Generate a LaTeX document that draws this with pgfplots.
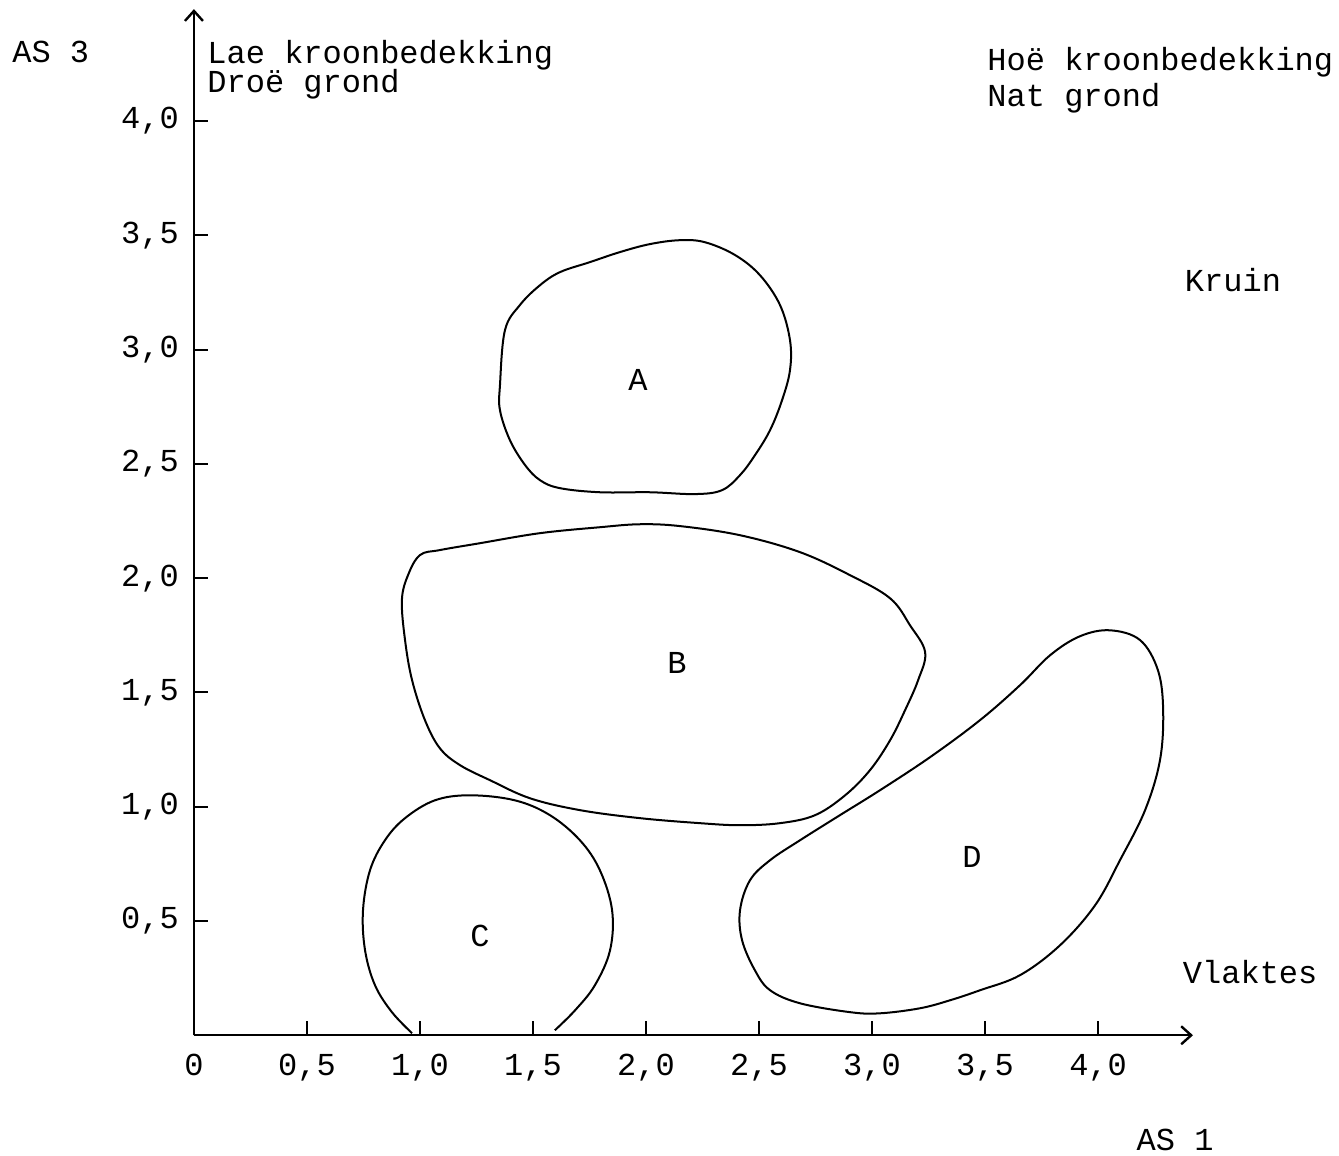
\documentclass[border=0pt]{standalone}
\usepackage{fontspec}
\setmainfont{Liberation Mono}
\setmonofont{Liberation Mono}
\usepackage{pgfplots}
\pgfplotsset{compat=1.18}
\usetikzlibrary{arrows.meta}
\begin{document}
\begin{tikzpicture}
\begin{axis}[
  x=113pt, y=114.25pt,
  xmin=0, xmax=4.42, ymin=0, ymax=4.49,
  axis lines=left,
  axis line style={line width=1.2pt, -{Straight Barb[length=5pt,width=9pt]}},
  clip=false,
  xtick={0,0.5,1,1.5,2,2.5,3,3.5,4},
  xticklabels={0,{0,5},{1,0},{1,5},{2,0},{2,5},{3,0},{3,5},{4,0}},
  ytick={0.5,1,1.5,2,2.5,3,3.5,4},
  yticklabels={{0,5},{1,0},{1,5},{2,0},{2,5},{3,0},{3,5},{4,0}},
  tick align=inside,
  major tick length=7pt,
  tick style={line width=1pt, black},
  ticklabel style={font=\fontsize{16}{19}\selectfont},
  xticklabel style={yshift=-6pt},
  yticklabel style={xshift=-4pt},
]
% Blob A
\addplot[black, line width=1pt, smooth cycle, tension=0.6] coordinates {
(1.354,2.845) (1.376,3.085) (1.442,3.195) (1.531,3.282) (1.619,3.339)
(1.752,3.383) (1.885,3.427) (2.018,3.462) (2.150,3.479) (2.261,3.470)
(2.394,3.414) (2.504,3.326) (2.593,3.195) (2.637,3.042) (2.637,2.910)
(2.602,2.779) (2.549,2.648) (2.482,2.538) (2.416,2.451) (2.336,2.385)
(2.217,2.368) (2.018,2.376) (1.796,2.376) (1.619,2.394) (1.531,2.429)
(1.465,2.495) (1.398,2.604) (1.354,2.735)
};
% Blob B
\addplot[black, line width=1pt, smooth cycle, tension=0.6] coordinates {
(0.947,2.013) (1.000,2.101) (1.088,2.123) (1.265,2.153) (1.531,2.197)
(1.796,2.223) (1.973,2.236) (2.150,2.228) (2.416,2.188) (2.681,2.114)
(2.903,2.013) (3.080,1.912) (3.168,1.794) (3.235,1.676) (3.204,1.554)
(3.146,1.422) (3.080,1.291) (2.991,1.160) (2.881,1.050) (2.748,0.963)
(2.593,0.928) (2.416,0.919) (2.239,0.928) (1.973,0.950) (1.708,0.985)
(1.487,1.037) (1.310,1.116) (1.177,1.182) (1.088,1.256) (1.022,1.379)
(0.965,1.554) (0.934,1.729) (0.920,1.904)
};
% Blob C (open at the axis)
\addplot[black, line width=1pt, smooth, tension=0.6] coordinates {
(0.965,0.009) (0.876,0.101) (0.801,0.219) (0.757,0.372) (0.748,0.547)
(0.779,0.722) (0.845,0.853) (0.934,0.950) (1.066,1.028) (1.221,1.050)
(1.420,1.028) (1.575,0.963) (1.708,0.853) (1.796,0.722) (1.850,0.547)
(1.841,0.372) (1.774,0.219) (1.686,0.109) (1.597,0.022)
};
% Blob D
\addplot[black, line width=1pt, smooth cycle, tension=0.6] coordinates {
(4.053,1.772) (4.186,1.729) (4.265,1.597) (4.288,1.422) (4.274,1.204)
(4.208,0.985) (4.097,0.766) (3.987,0.569) (3.832,0.394) (3.655,0.263)
(3.478,0.197) (3.345,0.153) (3.212,0.118) (3.035,0.096) (2.903,0.101)
(2.681,0.140) (2.549,0.197) (2.482,0.284) (2.425,0.416) (2.416,0.547)
(2.460,0.678) (2.549,0.766) (2.681,0.853) (2.858,0.963) (3.035,1.072)
(3.257,1.217) (3.478,1.379) (3.655,1.532) (3.788,1.663) (3.920,1.746)
};
\begin{scope}[every node/.style={font=\fontsize{16}{19}\selectfont, inner sep=0pt}]
\node at (axis cs:1.965,2.866) {A};
\node at (axis cs:2.137,1.628) {B};
\node at (axis cs:1.265,0.433) {C};
\node at (axis cs:3.442,0.779) {D};
\node[anchor=west] at (axis cs:-0.805,4.302) {AS 3};
\node[anchor=west] at (axis cs:0.058,4.289) {Lae kroonbedekking};
\node[anchor=west] at (axis cs:0.058,4.162) {Droë grond};
\node[anchor=west] at (axis cs:3.509,4.258) {Hoë kroonbedekking};
\node[anchor=west] at (axis cs:3.509,4.101) {Nat grond};
\node at (axis cs:4.597,3.304) {Kruin};
\node at (axis cs:4.673,0.276) {Vlaktes};
\node at (axis cs:4.341,-0.460) {AS 1};
\end{scope}
\path (axis cs:-0.858,-0.525) rectangle (axis cs:5.066,4.530);
\end{axis}
\end{tikzpicture}
\end{document}
